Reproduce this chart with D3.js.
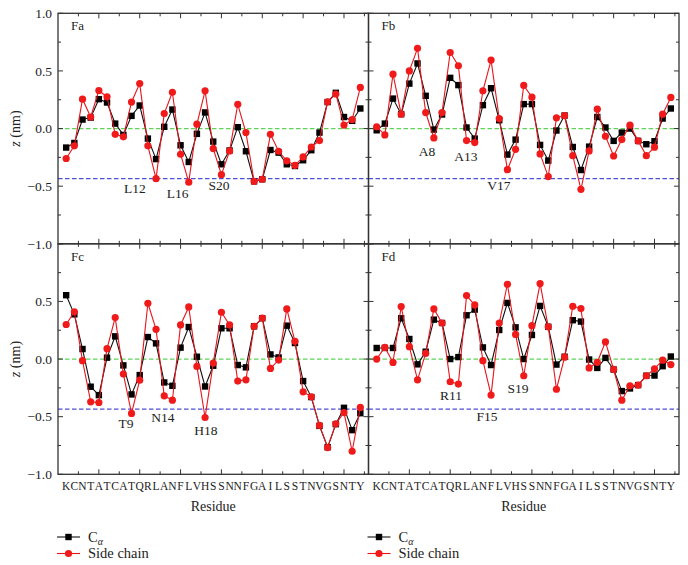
<!DOCTYPE html>
<html>
<head>
<meta charset="utf-8">
<script src="https://cdn.jsdelivr.net/npm/d3@7"></script>
<style>
    body { margin: 0; background: #fff; }
    svg text { fill: #222; }
</style>
</head>
<body>
<svg id="chart" width="688" height="565" font-family="'Liberation Serif', Tinos, 'Times New Roman', Times, serif"></svg>
<script>
// residue sequence (x categories, positions 1..37)
const residues = "KCNTATCATQRLANFLVHSSNNFGAILSSTNVGSNTY".split("");

// z (nm) per residue
const faCa = [-0.165, -0.125, 0.078, 0.095, 0.255, 0.226, 0.043, -0.055, 0.11, 0.2, -0.087, -0.265, 0.015, 0.165, -0.145, -0.29, -0.046, 0.14, -0.113, -0.31, -0.19, 0.012, -0.197, -0.458, -0.44, -0.186, -0.209, -0.31, -0.325, -0.275, -0.188, -0.035, 0.23, 0.31, 0.1, 0.067, 0.174];
const faSide = [-0.26, -0.15, 0.255, 0.1, 0.33, 0.275, -0.05, -0.072, 0.23, 0.39, -0.15, -0.435, 0.13, 0.315, -0.223, -0.465, 0.038, 0.327, -0.174, -0.4, -0.194, 0.21, -0.035, -0.458, -0.44, -0.05, -0.197, -0.28, -0.32, -0.246, -0.16, -0.104, 0.232, 0.3, 0.03, 0.078, 0.357];

const fbCa = [-0.015, 0.043, 0.26, 0.125, 0.39, 0.565, 0.284, -0.009, 0.122, 0.44, 0.377, 0.009, -0.087, 0.203, 0.35, 0.072, -0.226, -0.096, 0.212, 0.212, -0.142, -0.278, -0.017, 0.113, -0.16, -0.36, -0.157, 0.1, 0.009, -0.107, -0.035, 0.0, -0.107, -0.136, -0.11, 0.087, 0.174];
const fbSide = [0.015, -0.055, 0.472, 0.125, 0.5, 0.696, 0.139, -0.081, 0.139, 0.66, 0.545, -0.104, -0.122, 0.328, 0.594, 0.087, -0.357, -0.18, 0.374, 0.272, -0.22, -0.417, 0.093, 0.113, -0.235, -0.527, -0.194, 0.168, -0.067, -0.238, -0.096, 0.029, -0.107, -0.235, -0.162, 0.125, 0.27];

const fcCa = [0.554, 0.388, 0.087, -0.24, -0.313, 0.012, 0.197, -0.055, -0.307, -0.139, 0.191, 0.136, -0.203, -0.232, 0.099, 0.278, 0.02, -0.238, -0.058, 0.267, 0.267, -0.052, -0.072, 0.284, 0.354, 0.04, 0.014, 0.29, 0.139, -0.191, -0.33, -0.58, -0.765, -0.565, -0.423, -0.617, -0.47];
const fcSide = [0.3, 0.41, -0.014, -0.371, -0.377, 0.09, 0.36, -0.13, -0.472, -0.183, 0.484, 0.258, -0.319, -0.357, 0.296, 0.452, -0.064, -0.507, -0.035, 0.406, 0.296, -0.191, -0.18, 0.284, 0.356, -0.081, -0.009, 0.435, 0.154, -0.284, -0.328, -0.576, -0.768, -0.562, -0.464, -0.8, -0.42];

const fdCa = [0.096, 0.096, 0.096, 0.354, 0.174, -0.046, 0.064, 0.342, 0.313, 0.0, 0.017, 0.38, 0.429, 0.101, -0.052, 0.252, 0.487, 0.275, 0.0, 0.209, 0.461, 0.28, -0.048, 0.02, 0.337, 0.325, -0.004, -0.077, 0.01, -0.091, -0.278, -0.255, -0.226, -0.145, -0.143, -0.062, 0.022];
const fdSide = [0.0, 0.101, -0.029, 0.455, 0.107, -0.18, 0.049, 0.435, 0.313, -0.197, -0.217, 0.551, 0.47, -0.014, -0.313, 0.313, 0.649, 0.214, -0.145, 0.29, 0.655, 0.28, -0.262, 0.016, 0.458, 0.438, -0.077, -0.028, 0.149, -0.09, -0.357, -0.232, -0.226, -0.145, -0.085, -0.01, -0.048];

// residue labels written inside each panel: [text, x (residue), z (nm)]
const faNotes = [["L12", 9.42, -0.56], ["L16", 14.63, -0.605], ["S20", 19.7, -0.535]];
const fbNotes = [["A8", 7.16, -0.24], ["A13", 11.93, -0.284], ["V17", 15.97, -0.535]];
const fcNotes = [["T9", 8.32, -0.594], ["N14", 12.85, -0.542], ["H18", 18.1, -0.655]];
const fdNotes = [["R11", 10.1, -0.351], ["S19", 18.3, -0.291], ["F15", 14.5, -0.534]];

const yMajor = [-1, -0.5, 0, 0.5, 1];
const yMinor = [-0.75, -0.25, 0.25, 0.75];
const xMajor = [5, 10, 15, 20, 25, 30, 35];
const xMinor = [2.5, 7.5, 12.5, 17.5, 22.5, 27.5, 32.5, 37.5];
const refLines = [0, -0.435];

function main() {
    const svg = d3.select('#chart');
    const left = 58, top = 13.3, pw = 310.5, ph = 230.5;

    const panels = [
        {name: 'Fa', ca: faCa, side: faSide, notes: faNotes, col: 0, row: 0},
        {name: 'Fb', ca: fbCa, side: fbSide, notes: fbNotes, col: 1, row: 0},
        {name: 'Fc', ca: fcCa, side: fcSide, notes: fcNotes, col: 0, row: 1},
        {name: 'Fd', ca: fdCa, side: fdSide, notes: fdNotes, col: 1, row: 1}
    ];

    panels.forEach(p => {
        const x0 = left + p.col * pw;
        const y0 = top + p.row * ph;
        const x = d3.scaleLinear().domain([0, 38]).range([x0, x0 + pw]);
        const y = d3.scaleLinear().domain([-1, 1]).range([y0 + ph, y0]);
        const g = svg.append('g');

        // reference lines
        g.selectAll('.ref')
            .data(refLines)
            .enter()
            .append('line')
            .attr('x1', x0).attr('x2', x0 + pw)
            .attr('y1', d => y(d)).attr('y2', d => y(d))
            .attr('stroke', (d, i) => i === 0 ? '#5fd35a' : '#4f4fd8')
            .attr('stroke-width', 1.3)
            .attr('stroke-dasharray', '4.5,2.5');

        // inward ticks on all four sides
        const tickG = g.append('g').attr('stroke', '#333').attr('stroke-width', 1);
        [[xMajor, 5], [xMinor, 3]].forEach(([vals, len]) => {
            vals.forEach(v => {
                tickG.append('line').attr('x1', x(v)).attr('x2', x(v)).attr('y1', y0 + ph).attr('y2', y0 + ph - len);
                tickG.append('line').attr('x1', x(v)).attr('x2', x(v)).attr('y1', y0).attr('y2', y0 + len);
            });
        });
        [[yMajor, 5], [yMinor, 3]].forEach(([vals, len]) => {
            vals.forEach(v => {
                tickG.append('line').attr('y1', y(v)).attr('y2', y(v)).attr('x1', x0).attr('x2', x0 + len);
                tickG.append('line').attr('y1', y(v)).attr('y2', y(v)).attr('x1', x0 + pw).attr('x2', x0 + pw - len);
            });
        });

        g.append('rect')
            .attr('x', x0).attr('y', y0).attr('width', pw).attr('height', ph)
            .attr('fill', 'none').attr('stroke', '#333').attr('stroke-width', 1.3);

        const line = d3.line()
            .x((d, i) => x(i + 1))
            .y(d => y(d));

        // C-alpha series
        g.append('path').datum(p.ca)
            .attr('d', line).attr('fill', 'none').attr('stroke', '#111').attr('stroke-width', 1.1);
        g.selectAll('.ca').data(p.ca).enter().append('rect')
            .attr('x', (d, i) => x(i + 1) - 3.2).attr('y', d => y(d) - 3.2)
            .attr('width', 6.4).attr('height', 6.4).attr('fill', '#000');

        // side chain series
        g.append('path').datum(p.side)
            .attr('d', line).attr('fill', 'none').attr('stroke', '#e8141b').attr('stroke-width', 1.1);
        g.selectAll('.sc').data(p.side).enter().append('circle')
            .attr('cx', (d, i) => x(i + 1)).attr('cy', d => y(d))
            .attr('r', 3.6).attr('fill', '#f01a1a');

        g.append('text')
            .attr('x', x0 + 13).attr('y', y0 + 17)
            .style('font-size', '13px')
            .text(p.name);

        g.selectAll('.note').data(p.notes).enter().append('text')
            .attr('x', d => x(d[1])).attr('y', d => y(d[2]))
            .attr('text-anchor', 'middle')
            .style('font-size', '13.5px')
            .text(d => d[0]);

        if (p.col === 0) {
            const labels = p.row === 0 ? yMajor : yMajor.filter(v => v < 1);
            g.selectAll('.ylab').data(labels).enter().append('text')
                .attr('x', x0 - 6).attr('y', d => y(d))
                .attr('dy', '0.35em')
                .attr('text-anchor', 'end')
                .style('font-size', '13.5px')
                .text(d => d3.format('.1f')(d));

            g.append('text')
                .attr('transform', `translate(20,${y(0)}) rotate(-90)`)
                .attr('text-anchor', 'middle')
                .style('font-size', '14px')
                .html('<tspan font-style="italic">z</tspan> (nm)');
        }

        if (p.row === 1) {
            g.selectAll('.res').data(residues).enter().append('text')
                .attr('x', (d, i) => x(i + 1)).attr('y', y0 + ph + 15.5)
                .attr('text-anchor', 'middle')
                .style('font-size', '11.5px')
                .text(d => d);

            g.append('text')
                .attr('x', x(19)).attr('y', y0 + ph + 37)
                .attr('text-anchor', 'middle')
                .style('font-size', '14px')
                .text('Residue');

            // legend
            const lx = x0 - 1;
            const leg = g.append('g');
            leg.append('line').attr('x1', lx).attr('x2', lx + 23).attr('y1', 537).attr('y2', 537)
                .attr('stroke', '#111').attr('stroke-width', 1.1);
            leg.append('rect').attr('x', lx + 11.5 - 3.2).attr('y', 537 - 3.2)
                .attr('width', 6.4).attr('height', 6.4).attr('fill', '#000');
            leg.append('text').attr('x', lx + 31).attr('y', 541.5).style('font-size', '14.5px')
                .html('C<tspan font-style="italic" font-size="10px" dy="3">α</tspan>');
            leg.append('line').attr('x1', lx).attr('x2', lx + 23).attr('y1', 553.5).attr('y2', 553.5)
                .attr('stroke', '#e8141b').attr('stroke-width', 1.1);
            leg.append('circle').attr('cx', lx + 11.5).attr('cy', 553.5).attr('r', 3.6).attr('fill', '#f01a1a');
            leg.append('text').attr('x', lx + 31).attr('y', 558).style('font-size', '14.5px')
                .text('Side chain');
        }
    });
}

main();
</script>
</body>
</html>
